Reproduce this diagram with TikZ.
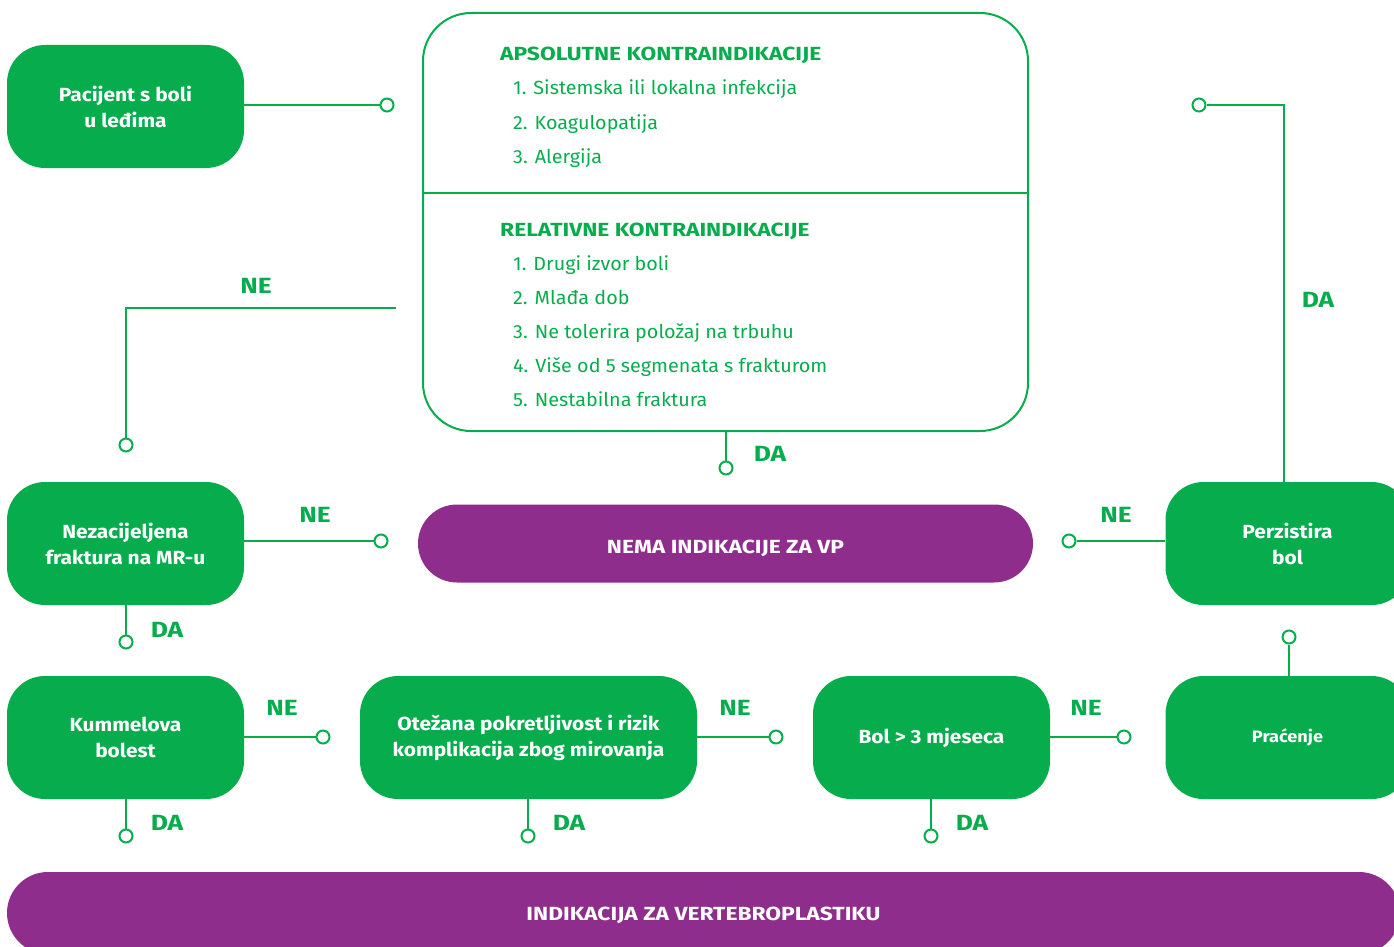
\documentclass[tikz,border=0pt]{standalone}
\usepackage{fontspec}
\setmainfont{Fira Sans}
\newfontfamily\tekstfont[FakeStretch=1.04]{Fira Sans}
\newfontfamily\kutijafont[FakeStretch=1.1]{Fira Sans}
\newfontfamily\velikafont[FakeStretch=1.2]{Fira Sans}
\usetikzlibrary{positioning}

\definecolor{zelena}{RGB}{7,173,76}
\definecolor{ljubicasta}{RGB}{143,45,141}

\tikzset{
    korak/.style={fill=zelena, rounded corners=38pt, minimum width=237pt,
        minimum height=123pt, inner sep=0pt, text=white, align=center,
        font=\kutijafont\fontsize{19}{26}\selectfont\bfseries},
    traka/.style={fill=ljubicasta, rounded corners=39pt, minimum height=78pt,
        inner sep=0pt, text=white, text depth=0pt,
        font=\velikafont\fontsize{19}{22}\selectfont\bfseries},
    kraj/.style={circle, draw=zelena, fill=white, line width=2pt,
        minimum size=13pt, inner sep=0pt},
    veza/.style={draw=zelena, line width=2pt},
    oznaka/.style={text=zelena, font=\velikafont\fontsize{22}{24}\selectfont\bfseries},
    naslov/.style={text=zelena, anchor=base west, inner sep=0pt,
        font=\velikafont\fontsize{19}{22}\selectfont\bfseries},
    stavka/.style={text=zelena, anchor=base west, inner sep=0pt,
        font=\tekstfont\fontsize{19}{22}\selectfont}
}

\begin{document}
\begin{tikzpicture}[x=1pt, y=-1pt, on grid]
    \useasboundingbox (0,0) rectangle (1394,947);
    \clip (0,0) rectangle (1394,947);

    % koraci
    \node[korak] (pacijent) at (125.5,106.5) {Pacijent s boli\\u leđima};
    \node[korak] (nezac) [below=437pt of pacijent] {Nezacijeljena\\fraktura na MR-u};
    \node[korak] (kummel) [below=194pt of nezac] {Kummelova\\bolest};
    \node[korak, minimum width=337pt] (otezana) [right=403pt of kummel]
        {Otežana pokretljivost i rizik\\komplikacija zbog mirovanja};
    \node[korak] (bol) [right=403pt of otezana] {Bol > 3 mjeseca};
    \node[korak, minimum width=244pt, font=\kutijafont\fontsize{16.5}{20}\selectfont\bfseries]
        (pracenje) [right=356pt of bol] {Praćenje};
    \node[korak, minimum width=244pt] (perz) [above=194pt of pracenje] {Perzistira\\bol};

    \node[traka, minimum width=615pt, text height=19pt] (nema) [right=600pt of nezac]
        {NEMA INDIKACIJE ZA VP};
    \node[traka, minimum width=1393pt, minimum height=82pt, rounded corners=41pt,
        text height=14pt] (indikacija) at (703.5,913) {INDIKACIJA ZA VERTEBROPLASTIKU};

    % kontraindikacije
    \node[draw=zelena, line width=2pt, rounded corners=48pt, minimum width=605pt,
        minimum height=418pt, inner sep=0pt] (kontra) at (725.5,222) {};
    \draw[veza] (kontra.west |- 0,193) -- (kontra.east |- 0,193);
    \node[naslov] (aps) at (500,61) {APSOLUTNE KONTRAINDIKACIJE};
    \foreach \t [count=\i] in {Sistemska ili lokalna infekcija, Koagulopatija, Alergija}
        \node[stavka] (aps-\i) at (513,61+34*\i) {\i. \t};
    \node[naslov] (rel) at (500,236) {RELATIVNE KONTRAINDIKACIJE};
    \foreach \t [count=\i] in {Drugi izvor boli, Mlađa dob, Ne tolerira položaj na trbuhu,
        Više od 5 segmenata s frakturom, Nestabilna fraktura}
        \node[stavka] (rel-\i) at (513,236+34*\i) {\i. \t};

    % krajevi veza
    \node[kraj] (k-pac) at (387,105) {};
    \coordinate (ne-start) at (396,308);
    \node[kraj] (k-ne) at (126,445) {};
    \node[kraj] (k-da) at (726,468) {};
    \node[kraj] (k-nez-ne) at (381,541) {};
    \node[kraj] (k-nez-da) at (126,642) {};
    \node[kraj] (k-perz-ne) at (1069,541) {};
    \node[kraj] (k-perz-da) at (1199,105) {};
    \node[kraj] (k-kum-ne) at (323,737) {};
    \node[kraj] (k-kum-da) at (126,836) {};
    \node[kraj] (k-ote-ne) at (776,737) {};
    \node[kraj] (k-ote-da) at (528,836) {};
    \node[kraj] (k-bol-ne) at (1124,737) {};
    \node[kraj] (k-bol-da) at (931,836) {};
    \node[kraj] (k-pra) at (1289,637) {};

    % veze
    \draw[veza] (k-pac -| pacijent.east) -- (k-pac);
    \draw[veza] (ne-start) -| (k-ne);
    \draw[veza] (k-da |- kontra.south) -- (k-da);
    \draw[veza] (k-nez-ne -| nezac.east) -- (k-nez-ne);
    \draw[veza] (k-nez-da |- nezac.south) -- (k-nez-da);
    \draw[veza] (k-perz-ne -| perz.west) -- (k-perz-ne);
    \draw[veza] (perz.north -| 1284,0) |- (k-perz-da);
    \draw[veza] (k-kum-ne -| kummel.east) -- (k-kum-ne);
    \draw[veza] (k-kum-da |- kummel.south) -- (k-kum-da);
    \draw[veza] (k-ote-ne -| otezana.east) -- (k-ote-ne);
    \draw[veza] (k-ote-da |- otezana.south) -- (k-ote-da);
    \draw[veza] (k-bol-ne -| bol.east) -- (k-bol-ne);
    \draw[veza] (k-bol-da |- bol.south) -- (k-bol-da);
    \draw[veza] (k-pra |- pracenje.north) -- (k-pra);

    % oznake
    \node[oznaka] (o1) at (256,286) {NE};
    \node[oznaka] (o2) at (770,454) {DA};
    \node[oznaka] (o3) at (315,515) {NE};
    \node[oznaka] (o4) at (1116,515) {NE};
    \node[oznaka] (o5) at (1318,300) {DA};
    \node[oznaka] (o6) at (167,630) {DA};
    \node[oznaka] (o7) at (282,708) {NE};
    \node[oznaka] (o8) at (167,823) {DA};
    \node[oznaka] (o9) at (735,708) {NE};
    \node[oznaka] (o10) at (569,823) {DA};
    \node[oznaka] (o11) at (1086,708) {NE};
    \node[oznaka] (o12) at (972,823) {DA};
\end{tikzpicture}
\end{document}
